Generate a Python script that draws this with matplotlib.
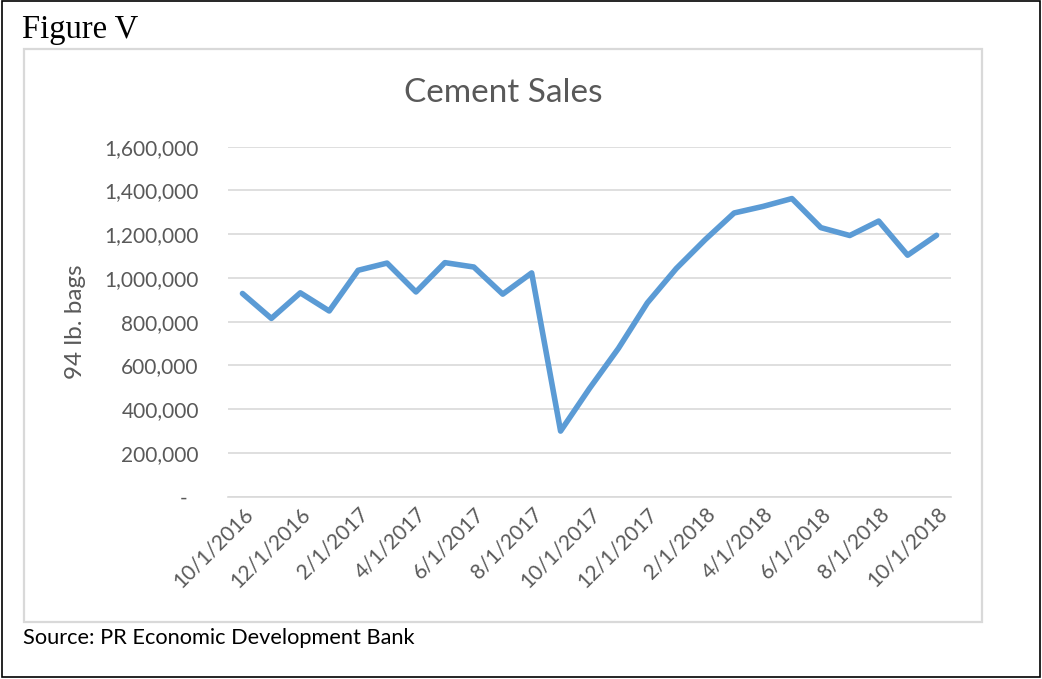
import matplotlib
matplotlib.use("Agg")
import matplotlib.pyplot as plt
from matplotlib.patches import Rectangle
from matplotlib.ticker import FuncFormatter

W, H = 1042, 679

months = ['10/1/2016', '11/1/2016', '12/1/2016', '1/1/2017', '2/1/2017', '3/1/2017',
          '4/1/2017', '5/1/2017', '6/1/2017', '7/1/2017', '8/1/2017', '9/1/2017',
          '10/1/2017', '11/1/2017', '12/1/2017', '1/1/2018', '2/1/2018', '3/1/2018',
          '4/1/2018', '5/1/2018', '6/1/2018', '7/1/2018', '8/1/2018', '9/1/2018',
          '10/1/2018']
bags = [929000, 815000, 932000, 849000, 1035000, 1068000, 936000, 1070000, 1050000,
        926000, 1023000, 300000, 495000, 678000, 886000, 1043000, 1175000, 1297000,
        1327000, 1363000, 1230000, 1194000, 1260000, 1104000, 1195000]
yticks = [0, 200000, 400000, 600000, 800000, 1000000, 1200000, 1400000, 1600000]

LINE = '#5B9BD5'
GRID = '#D9D9D9'
TEXT = '#595959'


def px(x, y):
	# pixel position (from top-left) -> figure fraction
	return x / W, 1 - y / H


def fmt_bags(v, pos):
	if v == 0:
		return '-  '
	return '{:,.0f}'.format(v)


fig = plt.figure(figsize=(W / 100, H / 100), dpi=100)
fig.patch.set_facecolor('white')

# outer frame and chart box
x0, y0 = px(2, 677)
fig.add_artist(Rectangle((x0, y0), 1038 / W, 676 / H, transform=fig.transFigure,
                         fill=False, edgecolor='black', lw=1.2))
x0, y0 = px(24, 621.5)
fig.add_artist(Rectangle((x0, y0), 957.5 / W, 572.5 / H, transform=fig.transFigure,
                         fill=False, edgecolor=GRID, lw=1.6))

left, top = px(228, 146.7)
right, bottom = px(951, 496.7)
ax = fig.add_axes([left, bottom, right - left, top - bottom])

xs = list(range(len(months)))
ax.plot(xs, bags, color=LINE, lw=4.0, solid_joinstyle='round', solid_capstyle='round',
        zorder=3)

ax.set_xlim(-0.5, len(months) - 0.5)
ax.set_ylim(0, 1600000)
ax.set_yticks(yticks)
ax.yaxis.set_major_formatter(FuncFormatter(fmt_bags))
ax.grid(axis='y', color=GRID, lw=1.2)
ax.set_axisbelow(True)
for s in ['top', 'right', 'left']:
	ax.spines[s].set_visible(False)
ax.spines['bottom'].set_color(GRID)
ax.spines['bottom'].set_linewidth(1.2)

ax.set_xticks(xs[::2])
ax.set_xticklabels(months[::2], rotation=45, ha='right', va='top',
                   rotation_mode='anchor', fontsize=15, color=TEXT, family='Lato')
ax.tick_params(axis='x', length=0, pad=5)
ax.tick_params(axis='y', length=0, pad=21, labelsize=15, labelcolor=TEXT)
for lbl in ax.get_yticklabels():
	lbl.set_family('Lato')

fx, fy = px(75, 322)
fig.text(fx, fy, '94 lb. bags', rotation=90, ha='center', va='center',
         fontsize=17.5, color=TEXT, family='Lato')

fx, fy = px(503, 93)
fig.text(fx, fy, 'Cement Sales', ha='center', va='center', fontsize=24,
         color=TEXT, family='Lato')

fx, fy = px(22, 30)
fig.text(fx, fy, 'Figure V', ha='left', va='center', fontsize=23.5,
         color='black', family='Liberation Serif')

fx, fy = px(23, 638)
fig.text(fx, fy, 'Source: PR Economic Development Bank', ha='left', va='center',
         fontsize=15.7, color='black', family='Lato')

fig.savefig('out.png', dpi=100)
